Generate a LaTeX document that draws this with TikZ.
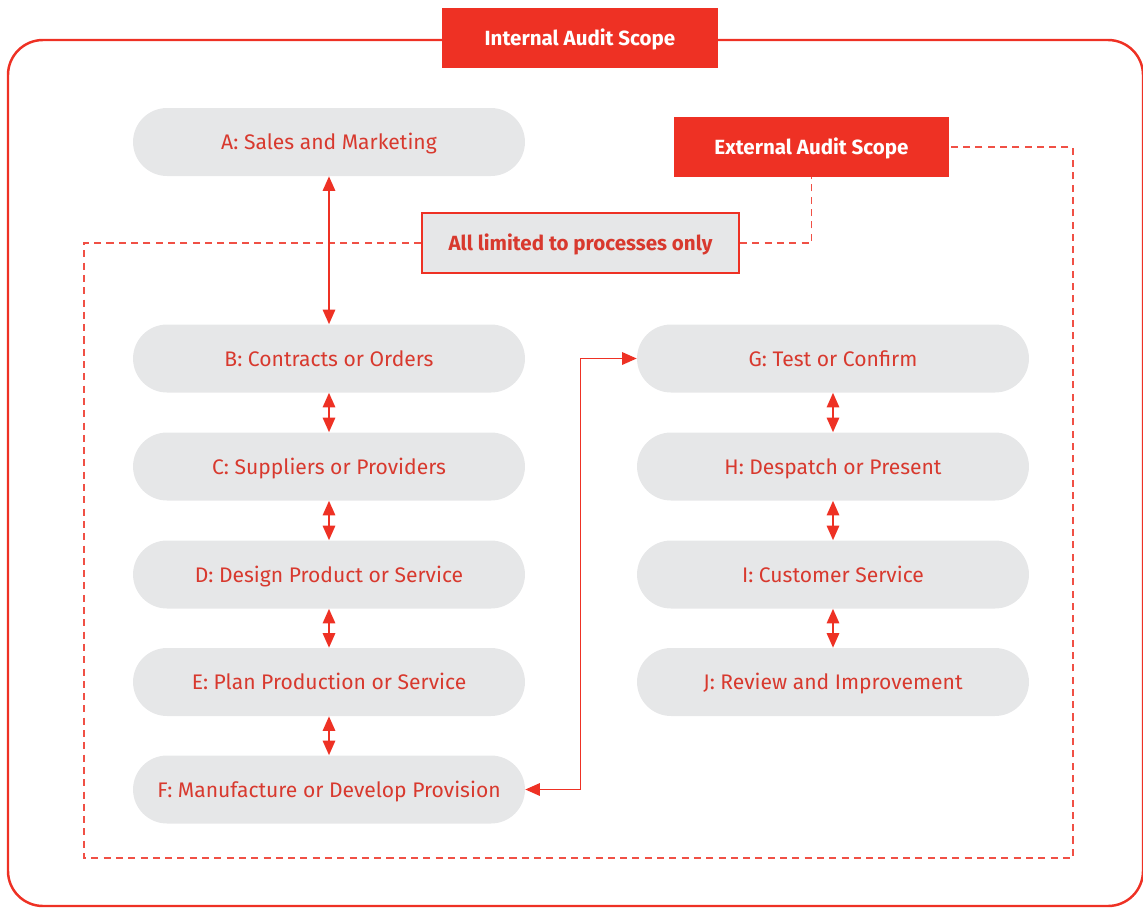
\documentclass[tikz,border=0pt]{standalone}
\usepackage{fontspec}
\setmainfont{Fira Sans}
\usetikzlibrary{arrows.meta}
\definecolor{auditred}{HTML}{EE3124}
\definecolor{labelred}{HTML}{D8392E}
\definecolor{pillgrey}{HTML}{E6E7E8}
\tikzset{
	pill/.style={fill=pillgrey, rounded corners=0.68cm, minimum width=7.84cm, minimum height=1.36cm, text=labelred, text height=0.9em, text depth=0pt, font=\fontsize{12}{14}\selectfont},
	scopebox/.style={fill=auditred, text=white, minimum height=1.2cm, text height=0.85em, text depth=0pt, font=\bfseries\fontsize{11.7}{14}\selectfont},
	limitbox/.style={fill=pillgrey, draw=auditred, line width=1.2pt, text=labelred, minimum width=6.34cm, minimum height=1.2cm, text height=0.85em, text depth=0pt, font=\bfseries\fontsize{11.7}{14}\selectfont},
	link/.style={auditred, line width=0.8pt, {Triangle[length=0.29cm,width=0.25cm]}-{Triangle[length=0.29cm,width=0.25cm]}},
	scopeline/.style={auditred!85, line width=0.7pt, dash pattern=on 4pt off 3pt}
}
\begin{document}
\begin{tikzpicture}[x=0.02cm, y=-0.02cm]
	\useasboundingbox (0,0) rectangle (1143,907);
	\draw[auditred, line width=1.4pt, rounded corners=0.7cm] (8,40) rectangle (1143,906);
	\node[scopebox, minimum width=5.52cm] (internal) at (580,38) {Internal Audit Scope};
	\node[scopebox, minimum width=5.5cm] (external) at (811.5,147) {External Audit Scope};
	\node[limitbox] (limited) at (580.5,243) {All limited to processes only};
	\node[pill] (a) at (329,142) {A: Sales and Marketing};
	\node[pill] (b) at (329,358.5) {B: Contracts or Orders};
	\node[pill] (c) at (329,466.5) {C: Suppliers or Providers};
	\node[pill] (d) at (329,574.5) {D: Design Product or Service};
	\node[pill] (e) at (329,682) {E: Plan Production or Service};
	\node[pill] (f) at (329,789.5) {F: Manufacture or Develop Provision};
	\node[pill] (g) at (833,358.5) {G: Test or Confirm};
	\node[pill] (h) at (833,466.5) {H: Despatch or Present};
	\node[pill] (i) at (833,574.5) {I: Customer Service};
	\node[pill] (j) at (833,682) {J: Review and Improvement};
	\coordinate (sw) at (84,858);
	\coordinate (se) at (1073,858);
	\draw[scopeline] (limited.west) -| (sw) -| (se) |- (external.east);
	\draw[scopeline] (limited.east) -| (external.south);
	\draw[link] (a) -- (b);
	\draw[link] (b) -- (c);
	\draw[link] (c) -- (d);
	\draw[link] (d) -- (e);
	\draw[link] (e) -- (f);
	\draw[link] (g) -- (h);
	\draw[link] (h) -- (i);
	\draw[link] (i) -- (j);
	\draw[link] (f.east) -- ++(55,0) |- (g.west);
\end{tikzpicture}
\end{document}
